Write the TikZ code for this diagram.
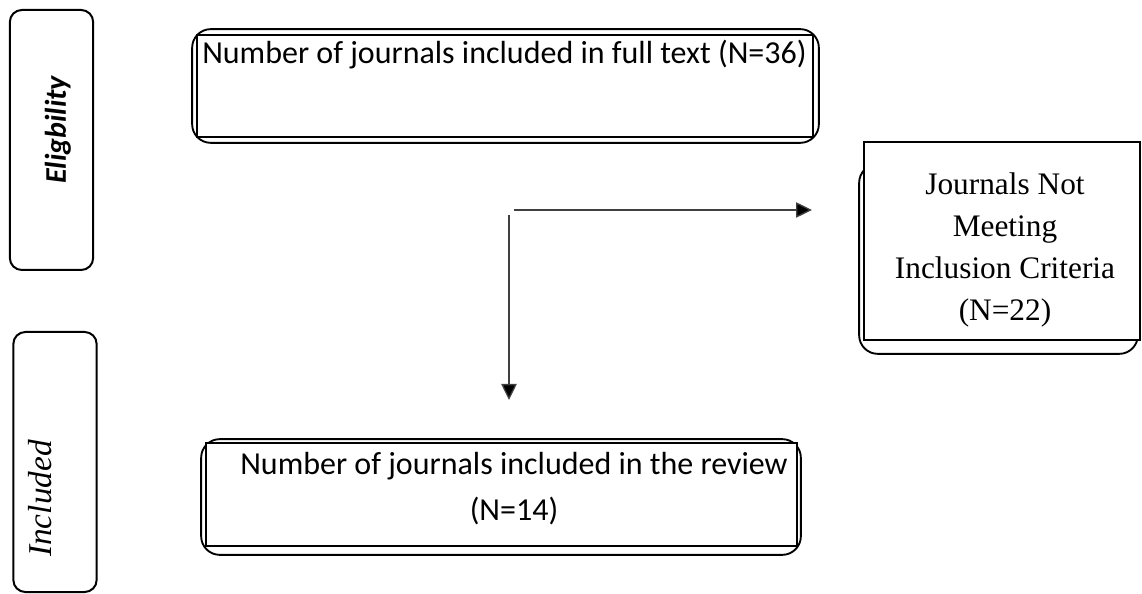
\documentclass[tikz,border=0pt]{standalone}
\usepackage{fontspec}
\newfontfamily\boxfont{Carlito}
\newfontfamily\timesfont{Liberation Serif}
\usetikzlibrary{arrows.meta,backgrounds,calc}

\begin{document}
\begin{tikzpicture}[x=0.75pt,y=0.75pt,
  sidebox/.style={draw,line width=1.5pt,rounded corners=9pt,minimum width=62.5pt,minimum height=195pt},
  mainbox/.style={draw,fill=white,line width=1.3pt,inner sep=0pt},
  outerframe/.style={draw,line width=1.4pt,rounded corners=14pt},
  arr/.style={draw=black!75,line width=1pt,-{Triangle[length=12pt,width=11.5pt,fill=black]}}]
\useasboundingbox (0,0) rectangle (1142,593);

% stage boxes
\node[sidebox] (eligbox) at (51.5,453) {};
\node[sidebox] (inclbox) at (55,131) {};
\node[rotate=90,anchor=base,font=\boxfont\bfseries\itshape\fontsize{22.5}{26}\selectfont] (eligtext) at (66,463) {Eligbility};
\node[rotate=90,anchor=base,font=\timesfont\itshape\fontsize{25}{30}\selectfont] (incltext) at (52,94.5) {Included};

% flow boxes
\node[mainbox,minimum width=462pt,minimum height=76.5pt] (full) at (505,507) {};
\node[anchor=base west,inner sep=0pt,font=\boxfont\fontsize{24}{29}\selectfont] (fulltext) at (202,529) {Number of journals included in full text (N=36)};
\node[mainbox,minimum width=207pt,minimum height=148.5pt] (excl) at (1002,352) {};
\node[align=center,inner sep=0pt,font=\timesfont\fontsize{23.5}{31.5}\selectfont] (excltext) at (1005,343.5) {Journals Not\\Meeting\\Inclusion Criteria\\(N=22)};
\node[mainbox,minimum width=443.25pt,minimum height=77.25pt] (review) at (501.5,98.5) {};
\node[align=center,inner sep=0pt,font=\boxfont\fontsize{24}{34.5}\selectfont] (reviewtext) at (514,104) {Number of journals included in the review\\(N=14)};

% rounded frames behind the boxes
\begin{scope}[on background layer]
\draw[outerframe] ($(full.south west)+(-4,-5)$) rectangle ($(full.north east)+(5,5)$);
\draw[outerframe] ($(excl.south west)+(-4,-13)$) rectangle ($(excl.north east)+(-3,-23)$);
\draw[outerframe] ($(review.south west)+(-4,-8)$) rectangle ($(review.north east)+(3,3)$);
\end{scope}

% arrows
\coordinate (hstart) at (514,383);
\coordinate (hend) at (812,383);
\coordinate (vstart) at (509,378);
\coordinate (vend) at (509,193);
\draw[arr] (hstart) -- (hend);
\draw[arr] (vstart) -- (vend);
\end{tikzpicture}
\end{document}
